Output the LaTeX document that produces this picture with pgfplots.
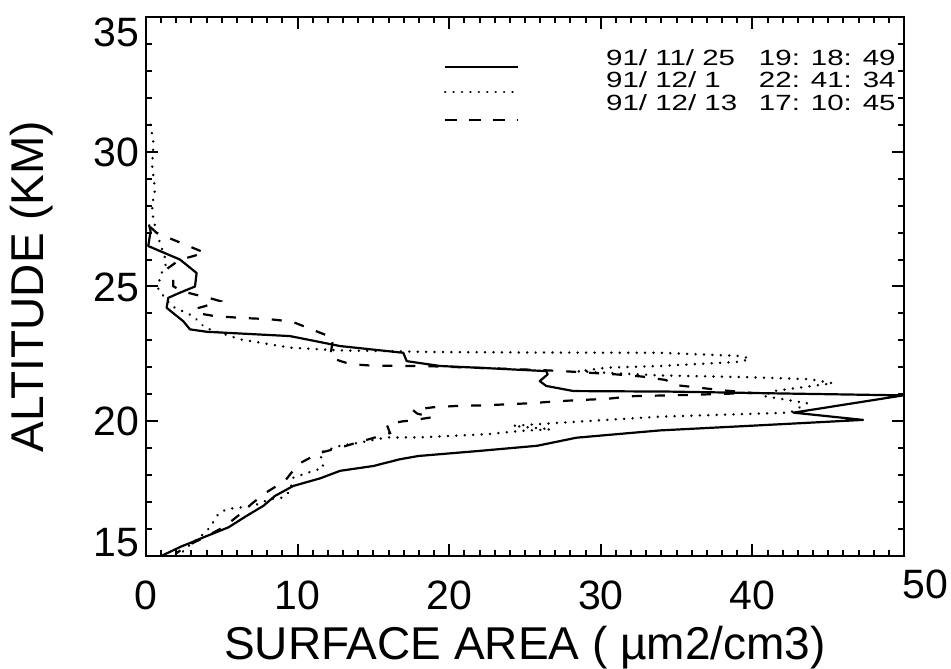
\documentclass[border=0pt]{standalone}
\usepackage{fontspec}
\setmainfont{Liberation Sans}
\usepackage{graphicx}
\usepackage{pgfplots}
\pgfplotsset{compat=1.18}

% legend entry: date and time in two fixed boxes, stretched a little
\newcommand{\legentry}[2]{\hspace*{44pt}\scalebox{1.34}[1]{\makebox[49pt][l]{#1}\hspace{10pt}\makebox[49pt][r]{#2}}}
% tick label moved up/down by #1 (centre of the digits relative to the tick)
\newcommand{\tl}[2]{\raisebox{\dimexpr #1-7.35pt\relax}[0pt][0pt]{#2}}

\tikzset{
  sa solid/.style={black, line width=1.1pt, line join=round},
  sa dot/.style={black, line width=1.35pt, line cap=round, dash pattern=on 0.01pt off 4.2pt},
  sa dash/.style={black, line width=1.1pt, dash pattern=on 5pt off 6.5pt},
}

\begin{document}
\begin{tikzpicture}
\useasboundingbox (-73pt,-56pt) rectangle (402.5pt,278pt);
\begin{axis}[
  at={(0,0)}, anchor=south west,
  width=379pt, height=269.5pt, scale only axis,
  xmin=0, xmax=50, ymin=15, ymax=35,
  xtick={0,10,...,50}, ytick={15,20,...,35},
  xticklabels={0,10,20,30,40,\hspace*{21pt}\raisebox{-8.7pt}[0pt][0pt]{50}},
  yticklabels={\tl{7pt}{15},\tl{0pt}{20},\tl{0pt}{25},\tl{0pt}{30},\tl{-7.5pt}{35}},
  minor x tick num=9, minor y tick num=4,
  major tick length=6pt, minor tick length=3pt,
  tick style={line width=1pt, black},
  axis line style={line width=1.2pt},
  /pgf/number format/assume math mode=true,
  tick label style={font=\fontsize{20.5}{24}\selectfont},
  xticklabel style={yshift=-9pt},
  label style={font=\fontsize{23}{27}\selectfont},
  xlabel={SURFACE AREA ( µm2/cm3)},
  ylabel={ALTITUDE (KM)},
  xlabel style={at={(axis description cs:0.5,-0.192)}, anchor=base},
  ylabel style={at={(axis description cs:-0.1346,0.5)}, anchor=base},
  legend cell align=left,
  legend style={draw=none, fill=none, at={(rel axis cs:1,1)}, anchor=north east,
    xshift=-1pt, yshift=-14pt, font=\fontsize{11}{13}\selectfont,
    row sep=0pt, column sep=0pt,
    nodes={inner sep=0pt, text height=8pt, text depth=3.25pt}},
]
\addplot[sa solid, legend image code/.code={
    \path[draw=none] (0pt,0pt) -- (36.5pt,0pt);
    \draw[overlay, black, solid, line width=1.1pt] (0pt,-3pt) -- (36.5pt,-3pt);}]
  coordinates {
  (0.2,27.3) (0.3,27.05) (0.15,26.5) (2.24,26.0) (3.34,25.5) (3.23,25.0)
  (2.24,24.77) (1.47,24.58) (1.36,24.21) (2.46,23.71) (2.9,23.41) (4.0,23.32)
  (9.5,23.16) (12.8,22.79) (16.97,22.54) (17.2,22.23) (19.4,22.05) (22.5,21.97)
  (26.4,21.86) (26.5,21.74) (25.97,21.49) (26.4,21.31) (28.2,21.12) (34.6,21.1)
  (42.0,21.03) (49.95,20.96) (43.4,20.38) (42.7,20.32) (47.3,20.05) (40.5,19.85)
  (33.9,19.66) (28.4,19.39) (25.8,19.09) (22.0,18.9) (17.96,18.71) (16.75,18.59)
  (15.0,18.34) (12.8,18.16) (11.48,17.88) (9.72,17.6) (8.51,17.23) (7.74,16.86)
  (6.64,16.49) (5.43,16.06) (3.78,15.69) (2.9,15.48) (2.35,15.36) (1.0,15.0)
  };
\addlegendentry{\legentry{91/ 11/ 25}{19: 18: 49}}
\addplot[sa dot, legend image code/.code={
    \path[draw=none] (0pt,0pt) -- (36.5pt,0pt);
    \draw[overlay, black, line width=1.35pt, line cap=round, dash pattern=on 0.01pt off 4.2pt] (0pt,-4.5pt) -- (36.5pt,-4.5pt);}]
  coordinates {
  (0.3,31.0) (0.5,30.3) (0.4,29.5) (0.6,28.6) (0.4,28.0) (0.48,27.48)
  (0.92,26.62) (1.36,25.88) (0.92,25.38) (0.81,24.89) (1.69,24.27) (3.12,23.9)
  (3.89,23.47) (6.2,23.04) (9.5,22.73) (12.8,22.63) (18.95,22.57) (26.0,22.55)
  (33.9,22.54) (39.3,22.42) (39.8,22.32) (39.3,22.21) (33.9,22.05) (30.4,21.99)
  (28.5,21.85) (33.9,21.7) (40.0,21.63) (43.8,21.56) (45.3,21.41) (41.4,21.12)
  (40.7,20.94) (43.6,20.67) (42.5,20.32) (33.9,20.17) (26.9,19.93) (24.2,19.83)
  (26.7,19.7) (24.7,19.64) (22.5,19.52) (18.07,19.4) (15.87,19.4) (14.12,19.21)
  (12.8,19.09) (11.48,18.84) (11.7,18.28) (9.72,17.91) (9.5,17.42) (9.06,17.17)
  (8.2,17.11) (7.08,16.86) (5.32,16.74) (4.77,16.56) (4.22,16.06) (3.78,15.81)
  (3.12,15.51) (2.57,15.26) (2.2,15.0)
  };
\addlegendentry{\legentry{91/ 12/ 1}{22: 41: 34}}
\addplot[sa dash, legend image code/.code={
    \path[draw=none] (0pt,0pt) -- (36.5pt,0pt);
    \draw[overlay, black, line width=1.1pt, dash pattern=on 6pt off 6pt] (0pt,-7pt) -- (36.5pt,-7pt);}]
  coordinates {
  (0.3,27.2) (0.7,26.99) (3.89,26.25) (2.68,26.06) (2.24,26.0) (1.47,25.69)
  (1.8,25.51) (1.8,25.01) (2.35,24.83) (3.23,24.7) (3.89,24.62) (4.88,24.46)
  (3.89,24.27) (3.23,24.17) (3.5,24.0) (4.55,23.9) (6.42,23.83) (8.07,23.79)
  (9.61,23.7) (10.93,23.41) (12.35,23.09) (12.14,22.36) (13.46,22.12) (15.0,22.06)
  (18.3,22.05) (22.5,21.97) (26.0,21.9) (27.5,21.86) (29.5,21.79) (31.0,21.74)
  (32.7,21.66) (34.3,21.53) (34.8,21.35) (38.0,21.15) (40.0,21.05) (36.0,20.98)
  (32.04,20.93) (30.4,20.83) (28.7,20.79) (27.1,20.74) (25.4,20.67) (23.9,20.63)
  (22.25,20.59) (20.6,20.57) (18.95,20.52) (17.6,20.42) (17.9,20.28) (18.9,20.15)
  (17.4,20.02) (16.97,20.0) (15.87,19.89) (16.1,19.56) (14.56,19.31) (13.02,19.06)
  (11.37,18.81) (10.05,18.41) (9.17,17.79) (7.85,17.33) (7.0,16.95) (6.2,16.55)
  (5.2,16.1) (3.9,15.7) (2.6,15.35) (2.0,15.1)
  };
\addlegendentry{\legentry{91/ 12/ 13}{17: 10: 45}}
\end{axis}
\end{tikzpicture}
\end{document}
